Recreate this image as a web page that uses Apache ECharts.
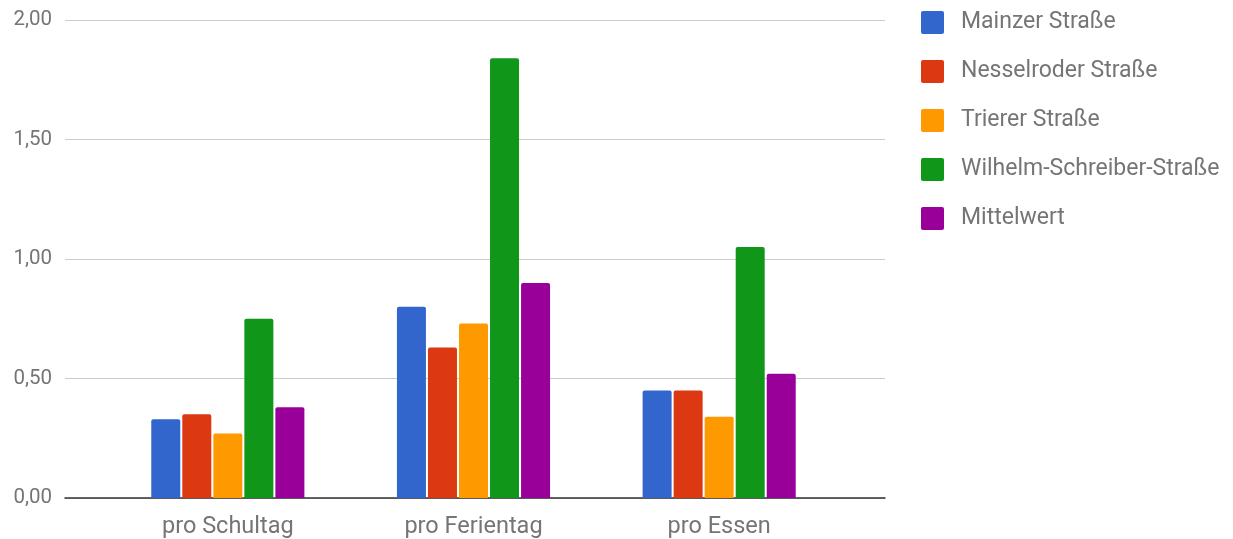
<!DOCTYPE html>
<html>
<head>
<meta charset="utf-8">
<script src="https://cdn.jsdelivr.net/npm/echarts@6/dist/echarts.min.js"></script>
<style>
  html, body { margin: 0; padding: 0; background: #fff; }
  #chart { width: 1233px; height: 539px; }
</style>
</head>
<body>
<div id="chart"></div>
<script>
// Category labels along the x axis
const categories = ['pro Schultag', 'pro Ferientag', 'pro Essen'];

// One value per category for each street
const mainzer = [0.33, 0.80, 0.45];
const nesselroder = [0.35, 0.63, 0.45];
const trierer = [0.27, 0.73, 0.34];
const wilhelm = [0.75, 1.84, 1.05];
const mittelwert = [0.38, 0.90, 0.52];

const seriesNames = ['Mainzer Straße', 'Nesselroder Straße', 'Trierer Straße', 'Wilhelm-Schreiber-Straße', 'Mittelwert'];
const seriesValues = [mainzer, nesselroder, trierer, wilhelm, mittelwert];
const colors = ['#3366cc', '#dc3912', '#ff9900', '#109618', '#990099'];

const FONT = 'Roboto';
const TEXT = '#757575';

const chart = echarts.init(document.getElementById('chart'), null, { renderer: 'canvas' });

const yBase = { type: 'value', min: 0, max: 2, interval: 0.5 };

// square legend swatch with slightly rounded corners
const SWATCH = 'path://M2,0H21Q23,0 23,2V21Q23,23 21,23H2Q0,23 0,21V2Q0,0 2,0Z';

chart.setOption({
  animation: false,
  color: colors,
  textStyle: { fontFamily: FONT },
  legend: {
    orient: 'vertical',
    left: 921,
    top: 11,
    padding: 0,
    itemWidth: 23,
    itemHeight: 23,
    itemGap: 26,
    icon: SWATCH,
    textStyle: { fontFamily: FONT, fontSize: 23, color: TEXT, padding: [0, 0, 0, 12] },
    data: seriesNames
  },
  grid: [
    // full-width grid carrying the gridlines, y labels and baseline
    { left: 65, top: 20, width: 820, height: 478 },
    // inner grid where the bar groups sit
    { left: 105, top: 20, width: 737, height: 478 }
  ],
  xAxis: [
    {
      gridIndex: 0, type: 'value', min: 0, max: 1,
      axisLine: { show: true, onZero: false, lineStyle: { color: '#333', width: 1.5 } },
      axisTick: { show: false }, axisLabel: { show: false }, splitLine: { show: false }
    },
    {
      gridIndex: 1, type: 'category', data: categories,
      axisLine: { show: false }, axisTick: { show: false },
      axisLabel: { fontFamily: FONT, fontSize: 23.5, color: TEXT, margin: 17 }
    }
  ],
  yAxis: [
    Object.assign({}, yBase, {
      gridIndex: 0,
      axisLine: { show: false }, axisTick: { show: false },
      axisLabel: {
        fontFamily: FONT, fontSize: 20.5, color: TEXT, margin: 13,
        formatter: v => v.toFixed(2).replace('.', ',')
      },
      splitLine: { lineStyle: { color: '#cccccc', width: 1 } }
    }),
    Object.assign({}, yBase, {
      gridIndex: 1, show: false, splitLine: { show: false }
    })
  ],
  series: seriesNames.map((name, i) => ({
    name: name,
    type: 'bar',
    xAxisIndex: 1,
    yAxisIndex: 1,
    data: seriesValues[i],
    barWidth: 29,
    barGap: '7%',
    itemStyle: { color: colors[i], borderRadius: [2, 2, 0, 0] }
  }))
});
</script>
</body>
</html>
